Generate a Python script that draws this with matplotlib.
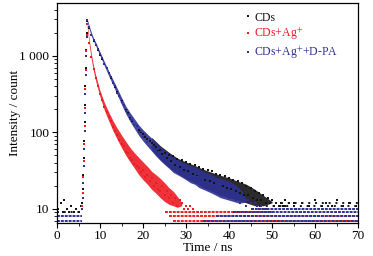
import matplotlib
matplotlib.use('Agg')
import matplotlib.pyplot as plt
import numpy as np
from matplotlib.ticker import MultipleLocator, LogLocator, NullFormatter

plt.rcParams['font.family'] = ['Liberation Serif', 'DejaVu Serif']
plt.rcParams['mathtext.fontset'] = 'stix'

labels = ['CDs', 'CDs+Ag$^{+}$', 'CDs+Ag$^{+}$+D-PA']
colors = ['#141414', '#ec1c24', '#2e3192']

# rising edge (ns) shared by all three decays
rise_t = [5.9, 6.0, 6.1, 6.2, 6.3, 6.4, 6.5, 6.6, 6.7, 6.8, 6.9]
rise_black = [12, 18, 28, 46, 78, 135, 230, 400, 700, 1200, 2000]
rise_red = [11, 16, 26, 42, 70, 120, 210, 370, 650, 1150, 1900]
rise_blue = [10, 14, 22, 36, 60, 105, 180, 320, 560, 1000, 1750]

# dense part of each decay: lower / upper edge of the point cloud
blue_env_t = [7, 7.5, 8, 8.5, 9, 10, 11, 12, 13, 14, 15, 16, 17, 18, 19, 20, 21, 22, 23, 24,
              25, 26, 27, 28, 29, 30, 31, 32, 33, 34, 35, 36, 37, 38, 39, 40, 41, 42, 43, 44]
blue_env_lo = [2800, 2200, 1800, 1550, 1350, 1000, 740, 550, 415, 310, 230, 175, 138, 112, 91, 77, 66, 57, 49, 43,
               38, 34, 30, 28, 26, 24, 22, 21, 19, 18, 17, 16, 15, 14, 13.5, 13, 12.5, 12, 12, 12.5]
blue_env_hi = [3050, 2450, 2000, 1700, 1500, 1120, 840, 635, 490, 375, 285, 220, 180, 150, 125, 108, 95, 84, 74, 65,
               58, 53, 48, 44, 41, 39, 37, 35, 33, 31, 29.5, 28, 26, 25, 24, 23, 21.5, 19.5, 17, 13.5]
red_env_t = [7, 7.5, 8, 8.5, 9, 10, 11, 12, 13, 14, 15, 16, 17, 18, 19, 20, 21, 22, 23, 24,
             25, 26, 27, 28, 29]
red_env_lo = [2400, 1350, 880, 620, 465, 290, 195, 142, 105, 81, 63, 50, 41, 34, 28, 24, 21, 18, 16, 14,
              12.5, 11.5, 11, 10.5, 11]
red_env_hi = [2800, 1600, 1040, 740, 555, 350, 245, 185, 142, 113, 92, 76, 63, 54, 47, 41, 36, 31, 28, 25,
              22, 19, 17, 14.5, 12]
black_env_t = [22, 24, 26, 28, 30, 32, 34, 36, 38, 40, 42, 44, 46, 48, 50]
black_env_lo = [59, 44, 35, 29, 25, 22, 19, 17, 15, 14, 13, 12, 11, 11, 12]
black_env_hi = [86, 67, 55, 46, 41, 37, 33, 30, 27.5, 25.5, 23, 21, 18, 15, 12.5]

# single points, one every 0.5 ns from 7.0 ns
decay_start = 7.0
decay_step = 0.5
black_counts = [2850, 2300, 1850, 1580, 1370, 1200, 1040, 900, 790, 690,
                590, 520, 445, 390, 340, 295, 258, 225, 196, 178,
                156, 143, 126, 121, 106, 102, 94, 88, 82, 78,
                72, 68, 64, 58, 59, 52, 54, 46, 50, 42,
                49, 38, 45, 35, 43, 32, 41, 31, 39, 29,
                37, 28, 35, 26, 33, 24, 32, 23, 31, 22,
                29, 21, 28, 20, 27, 19, 25, 18, 24, 17,
                23, 16, 22, 15, 20, 15, 19, 14, 17, 13,
                16, 13, 15, 12, 14, 12, 13, 11, 12, 11,
                12, 11, 11, 10, 12, 10, 11, 10]
red_counts = [2600, 1480, 960, 680, 510, 400, 315, 262, 215, 185,
              160, 140, 118, 104, 92, 80, 70, 66, 56, 54,
              46, 44, 39, 36, 34, 30, 32, 26, 28, 23,
              25, 20, 22, 18, 17, 20, 15, 17, 14, 15,
              12, 14, 11, 13, 12, 10, 11, 10, 11, 10]
blue_counts = [2950, 2380, 1900, 1630, 1400, 1240, 1050, 930, 790, 700,
               590, 525, 440, 400, 330, 300, 250, 225, 188, 176,
               150, 146, 124, 120, 100, 104, 86, 92, 74, 82,
               64, 72, 58, 60, 50, 56, 45, 49, 44, 40,
               35, 40, 31, 37, 33, 28, 34, 26, 31, 27,
               24, 29, 22, 26, 24, 20, 25, 19, 22, 20,
               17, 21, 18, 15, 19, 16, 14, 17, 15, 13,
               15, 12, 14, 13, 11, 13, 12, 10, 12, 11,
               10, 11, 10, 10]

# scattered points before the pulse and in the long tail (CDs)
black_pre_t = [0.3, 0.8, 1.3, 1.7, 2.2, 2.8, 3.3, 3.9, 4.4, 5.0, 5.5]
black_pre_c = [10, 12, 9, 13, 10, 9, 11, 9, 10, 9, 11]
black_tail_t = [53, 55, 57, 58.5, 60, 61.5, 62.5, 64, 65, 66.5, 68, 69.5]
black_tail_c = [13, 12, 12, 11, 13, 11, 12, 11, 13, 11, 12, 11]

# background count levels (level, from, to)
black_floor_lvl = [9, 11, 12]
black_floor_t0 = [0, 47, 52]
black_floor_t1 = [5.8, 70, 70]
red_floor_lvl = [7, 8, 9]
red_floor_t0 = [27, 26, 25]
red_floor_t1 = [70, 70, 50]
blue_floor_lvl = [7, 8, 7, 8, 9, 10]
blue_floor_t0 = [0, 0, 34, 37, 41, 45]
blue_floor_t1 = [5.8, 5.8, 70, 70, 70, 70]

fig = plt.figure(figsize=(3.73, 2.56), dpi=100)
ax = fig.add_axes([0.153, 0.13, 0.807, 0.858])

series = [
    (black_counts, rise_black, black_env_t, black_env_lo, black_env_hi,
     black_floor_lvl, black_floor_t0, black_floor_t1, (0, (1.0, 2.5))),
    (red_counts, rise_red, red_env_t, red_env_lo, red_env_hi,
     red_floor_lvl, red_floor_t0, red_floor_t1, (0, (1.5, 0.5))),
    (blue_counts, rise_blue, blue_env_t, blue_env_lo, blue_env_hi,
     blue_floor_lvl, blue_floor_t0, blue_floor_t1, (0, (1.5, 0.5))),
]
handles = []
for i, (counts, rise, et, elo, ehi, lvl, t0, t1, ls) in enumerate(series):
    c = colors[i]
    ax.hlines(lvl, t0, t1, colors=c, linestyles=[ls], linewidth=1.4)
    ax.fill_between(et, elo, ehi, color=c, lw=0, alpha=0.9)
    ax.plot(rise_t, rise, 's', ms=1.5, mew=0, color=c)
    t = decay_start + decay_step * np.arange(len(counts))
    h, = ax.plot(t, counts, 's', ms=1.7, mew=0, color=c, label=labels[i])
    handles.append(h)
    if i == 0:
        ax.plot(black_pre_t, black_pre_c, 's', ms=1.5, mew=0, color=c)
        ax.plot(black_tail_t, black_tail_c, 's', ms=1.5, mew=0, color=c)

ax.set_yscale('log')
ax.set_xlim(0, 70)
ax.set_ylim(6.6, 4900)
ax.xaxis.set_major_locator(MultipleLocator(10))
ax.xaxis.set_minor_locator(MultipleLocator(5))
ax.set_yticks([10, 100, 1000])
ax.set_yticklabels(['10', '100', '1 000'])
ax.yaxis.set_minor_locator(LogLocator(base=10, subs=np.arange(2, 10)))
ax.yaxis.set_minor_formatter(NullFormatter())
ax.tick_params(which='both', direction='out', top=False, right=False, labelsize=9.5, pad=2)
ax.tick_params(which='major', length=3.5, width=0.8)
ax.tick_params(which='minor', length=2, width=0.6)
for sp in ax.spines.values():
    sp.set_linewidth(0.9)

ax.set_xlabel('Time / ns', fontsize=9.5, labelpad=0)
ax.set_ylabel('Intensity / count', fontsize=9.5, labelpad=-1)

leg = ax.legend(handles=handles, loc='upper left', bbox_to_anchor=(0.59, 1.01),
                frameon=False, fontsize=8.5, handlelength=0.4, handletextpad=0.35,
                labelspacing=0.2, markerscale=1.0)
for txt, c in zip(leg.get_texts(), colors):
    txt.set_color(c)

fig.savefig('out.png', dpi=100)
